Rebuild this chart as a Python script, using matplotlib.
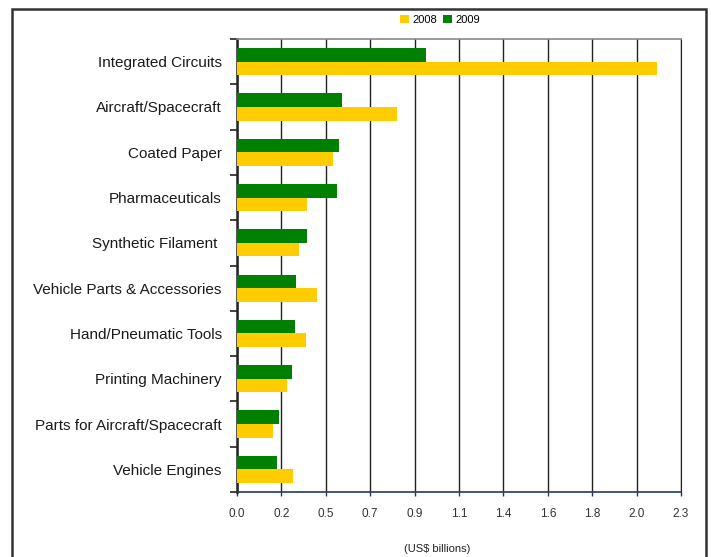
import matplotlib
matplotlib.use('Agg')
import matplotlib.pyplot as plt
import numpy as np
from matplotlib.patches import Rectangle

categories = ['Integrated Circuits', 'Aircraft/Spacecraft', 'Coated Paper', 'Pharmaceuticals',
              'Synthetic Filament ', 'Vehicle Parts & Accessories', 'Hand/Pneumatic Tools',
              'Printing Machinery', 'Parts for Aircraft/Spacecraft', 'Vehicle Engines']
val_2008 = [2.13, 0.81, 0.487, 0.355, 0.314, 0.405, 0.350, 0.253, 0.182, 0.284]
val_2009 = [0.958, 0.532, 0.517, 0.507, 0.355, 0.299, 0.294, 0.279, 0.213, 0.203]
xticks = np.linspace(0, 2.25, 11)
xtick_labels = ['0.0', '0.2', '0.5', '0.7', '0.9', '1.1', '1.4', '1.6', '1.8', '2.0', '2.3']

plt.rcParams['font.family'] = ['Liberation Sans', 'DejaVu Sans']

fig = plt.figure(figsize=(7.11, 5.57), dpi=100)
ax = fig.add_axes([237/711, 1 - 492/557, 444/711, 453/557])

y = np.arange(len(categories))
ax.barh(y - 0.15, val_2009, height=0.3, color='#008000', label='2009', zorder=3)
ax.barh(y + 0.15, val_2008, height=0.3, color='#FFCC00', label='2008', zorder=3)

ax.set_xlim(0, 2.25)
ax.set_ylim(len(categories) - 0.5, -0.5)
ax.set_xticks(xticks)
ax.set_xticklabels(xtick_labels, fontsize=8.5, color='#333333')
ax.tick_params(axis='x', length=3, width=1, color='#1F3864', pad=8.5)
ax.grid(axis='x', color='#222222', linewidth=1, zorder=1)

ax.set_yticks(y)
ax.set_yticklabels(categories, fontsize=11, color='#1a1a1a')
ax.tick_params(axis='y', length=0, pad=11)
ax.set_yticks(np.arange(-0.5, len(categories)), minor=True)
ax.tick_params(axis='y', which='minor', length=5, width=1.2, color='#222222')

ax.spines['left'].set_color('#222222')
ax.spines['left'].set_linewidth(1.8)
ax.spines['bottom'].set_color('#1F3864')
ax.spines['bottom'].set_linewidth(1.2)
ax.spines['top'].set_color('#888888')
ax.spines['top'].set_linewidth(1.2)
ax.spines['right'].set_color('#222222')

handles, labels = ax.get_legend_handles_labels()
fig.legend(handles[::-1], labels[::-1], loc='center', bbox_to_anchor=(440/711, 1 - 20/557),
           ncol=2, frameon=False, handlelength=0.8, handleheight=0.8, handletextpad=0.3,
           columnspacing=0.6, prop={'size': 8})

fig.text(437/711, 1 - 549/557, '(US$ billions)', ha='center', va='center',
         fontsize=8, color='#222222')

fig.add_artist(Rectangle((12/711, -0.05), 694/711, 1.05 - 9/557, transform=fig.transFigure,
                         fill=False, edgecolor='#333333', linewidth=1.8))

fig.savefig('out.png', dpi=100)
